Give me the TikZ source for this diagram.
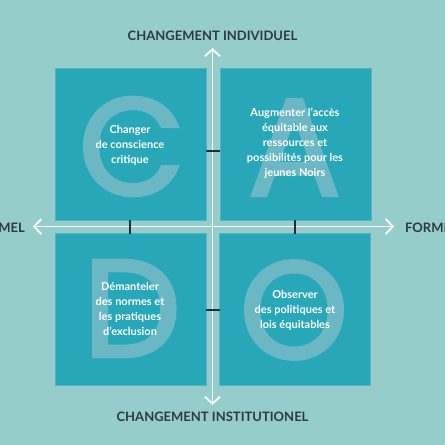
\documentclass[tikz,border=0pt]{standalone}
\usepackage{fontspec}
\setmainfont{Lato}
\newfontfamily\letterfont[FakeBold=2.5]{Poppins}
\usepackage{xcolor}
\usetikzlibrary{arrows.meta}

\definecolor{bgc}{HTML}{95CDCA}
\definecolor{boxfill}{HTML}{27A7B8}
\definecolor{boxedge}{HTML}{52B5C0}
\definecolor{letterc}{HTML}{6BB7C3}
\definecolor{labelc}{HTML}{2F3A3F}
\definecolor{navy}{HTML}{1E2B45}

\begin{document}
\begin{tikzpicture}[x=1pt, y=-1pt,
    quad/.style={draw=boxedge, fill=boxfill, line width=0.8pt,
      minimum width=151pt, minimum height=152pt, inner sep=0pt},
    letter/.style={text=letterc, inner sep=0pt,
      font=\letterfont\fontsize{138}{138}\selectfont},
    blurb/.style={text=white, align=center, inner sep=0pt,
      font=\bfseries\fontsize{11}{15}\selectfont},
    axislabel/.style={text=labelc, inner sep=0pt,
      font=\bfseries\fontsize{13}{13}\selectfont},
    axis/.style={white, line width=1.8pt,
      {Straight Barb[length=7pt, width=15pt, line width=1.8pt]}-{Straight Barb[length=7pt, width=15pt, line width=1.8pt]}},
    tickmark/.style={navy, line width=2pt},
  ]
    \useasboundingbox[fill=bgc] (0,0) rectangle (445,445);

    % quadrants
    \node[quad] (tl) at (130.5,144) {};
    \node[quad] (tr) at (295.5,144) {};
    \node[quad] (bl) at (130.5,309) {};
    \node[quad] (br) at (295,309) {};

    \node[letter] (lc) at (132,146.5) {C};
    \node[letter] (la) at (294.5,147.5) {A};
    \node[letter] (ld) at (132,308.5) {D};
    \node[letter] (lo) at (294,310) {O};

    \node[blurb] (critique) at (130,145)
      {Changer\\de conscience\\critique};
    \node[blurb] (acces) at (295,143)
      {Augmenter l’accès\\équitable aux\\ressources et\\possibilités pour les\\jeunes Noirs};
    \node[blurb] (normes) at (130,309)
      {Démanteler\\des normes et\\les pratiques\\d’exclusion};
    \node[blurb] (lois) at (295,310)
      {Observer\\des politiques et\\lois équitables};

    % axes
    \coordinate (top) at (212.5,48);
    \coordinate (bottom) at (212.5,405);
    \coordinate (left) at (33,226.5);
    \coordinate (right) at (394,226.5);
    \draw[axis] (bottom) -- (top);
    \draw[axis] (left) -- (right);

    \draw[tickmark] (205.5,151) -- (219.5,151);
    \draw[tickmark] (205.5,310) -- (219.5,310);
    \draw[tickmark] (130,219.5) -- (130,233.5);
    \draw[tickmark] (295,219.5) -- (295,233.5);

    \node[axislabel] (indiv) at (212.5,36) {CHANGEMENT INDIVIDUEL};
    \node[axislabel] (inst) at (212.5,417) {CHANGEMENT INSTITUTIONEL};
    \node[axislabel, anchor=east] (informel) at (25,228) {INFORMEL};
    \node[axislabel, anchor=west] (formel) at (405,228) {FORMEL};
  \end{tikzpicture}
\end{document}
